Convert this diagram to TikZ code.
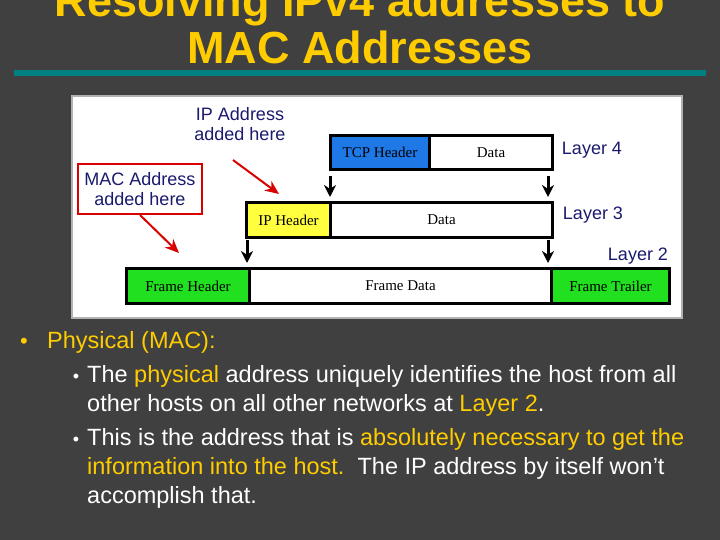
\documentclass[tikz,border=0pt]{standalone}
\usepackage{fontspec}
\usetikzlibrary{arrows.meta}
\setmainfont{Liberation Sans}
\newfontfamily\serifx{Liberation Serif}
\definecolor{bg}{HTML}{404040}
\definecolor{ttl}{HTML}{FFCC00}
\definecolor{teal}{HTML}{008080}
\definecolor{navy}{HTML}{1A1A6E}
\definecolor{tcpb}{HTML}{1E78E6}
\definecolor{ipy}{HTML}{FFFF40}
\definecolor{frg}{HTML}{20E020}
\begin{document}
\begin{tikzpicture}[x=1pt,y=-1pt,
  seg/.style={draw=black,line width=3pt,inner sep=0pt,anchor=north west,font=\serifx\fontsize{15}{16}\selectfont},
  lbl/.style={text=navy,font=\fontsize{18}{20}\selectfont,align=center},
  darr/.style={-{Stealth[length=12pt,width=12pt]},line width=3pt,black},
  rarr/.style={-{Stealth[length=14pt,width=12pt]},line width=2pt,red!85!black},
  txt/.style={text=white,anchor=north west,font=\fontsize{23.5}{29}\selectfont,align=left,inner sep=0pt}]
\useasboundingbox (0,0) rectangle (720,540);
\fill[bg] (0,0) rectangle (720,540);
\node[text=ttl,font=\bfseries\fontsize{45}{50}\selectfont] (t1) at (360,5) {Resolving IPv4 addresses to};
\node[text=ttl,font=\bfseries\fontsize{45}{50}\selectfont] (t2) at (360,47) {MAC Addresses};
\fill[teal] (14,70) rectangle (706,76);
\filldraw[fill=white,draw=gray!60,line width=1.5pt] (72,96) rectangle (682,318);
% layer 4
\node[seg,fill=tcpb,minimum width=99pt,minimum height=34pt] (tcp) at (329,134) {TCP Header};
\node[seg,fill=white,minimum width=123pt,minimum height=34pt] (d4) at (428,134) {Data};
\node[lbl] (l4) at (592,150) {Layer 4};
% layer 3
\node[seg,fill=ipy,minimum width=84pt,minimum height=35pt] (iph) at (245,201) {IP Header};
\node[seg,fill=white,minimum width=222pt,minimum height=35pt] (d3) at (329,201) {Data};
\node[lbl] (l3) at (593,215) {Layer 3};
% layer 2
\node[lbl] (l2) at (638,256) {Layer 2};
\node[seg,fill=frg,minimum width=123pt,minimum height=35pt] (fh) at (125,267) {Frame Header};
\node[seg,fill=white,minimum width=302pt,minimum height=35pt] (fd) at (248,267) {Frame Data};
\node[seg,fill=frg,minimum width=118pt,minimum height=35pt] (ft) at (550,267) {Frame Trailer};
% down arrows
\coordinate (a1s) at (330,176); \coordinate (a1e) at (330,197);
\coordinate (a2s) at (548,176); \coordinate (a2e) at (548,197);
\coordinate (a3s) at (247,240); \coordinate (a3e) at (247,263);
\coordinate (a4s) at (548,240); \coordinate (a4e) at (548,263);
\draw[darr] (a1s) -- (a1e); \draw[darr] (a2s) -- (a2e);
\draw[darr] (a3s) -- (a3e); \draw[darr] (a4s) -- (a4e);
% annotations
\node[lbl,inner sep=0pt] (ipa) at (240,124) {IP Address\\added here};
\node[lbl,draw=red!85!black,line width=2.5pt,minimum width=124pt,minimum height=50pt] (mac) at (140,189) {MAC Address\\added here};
\coordinate (r1s) at (233,160); \coordinate (r1e) at (279,194);
\coordinate (r2s) at (140,215); \coordinate (r2e) at (179,253);
\draw[rarr] (r1s) -- (r1e); \draw[rarr] (r2s) -- (r2e);
% bullets
\node[text=ttl,font=\fontsize{22}{20}\selectfont] (b0) at (24,343) {•};
\node[txt,text=ttl] (p0) at (47,331) {Physical (MAC):};
\node[text=white,font=\fontsize{18}{20}\selectfont] (b1) at (76,378) {•};
\node[txt] (p1) at (87,365) {The \textcolor{ttl}{physical} address uniquely identifies the host from all\\other hosts on all other networks at \textcolor{ttl}{Layer 2}.};
\node[text=white,font=\fontsize{18}{20}\selectfont] (b2) at (76,441) {•};
\node[txt] (p2) at (87,428) {This is the address that is \textcolor{ttl}{absolutely necessary to get the}\\\textcolor{ttl}{information into the host.}\ \ The IP address by itself won't\\accomplish that.};
\end{tikzpicture}
\end{document}
